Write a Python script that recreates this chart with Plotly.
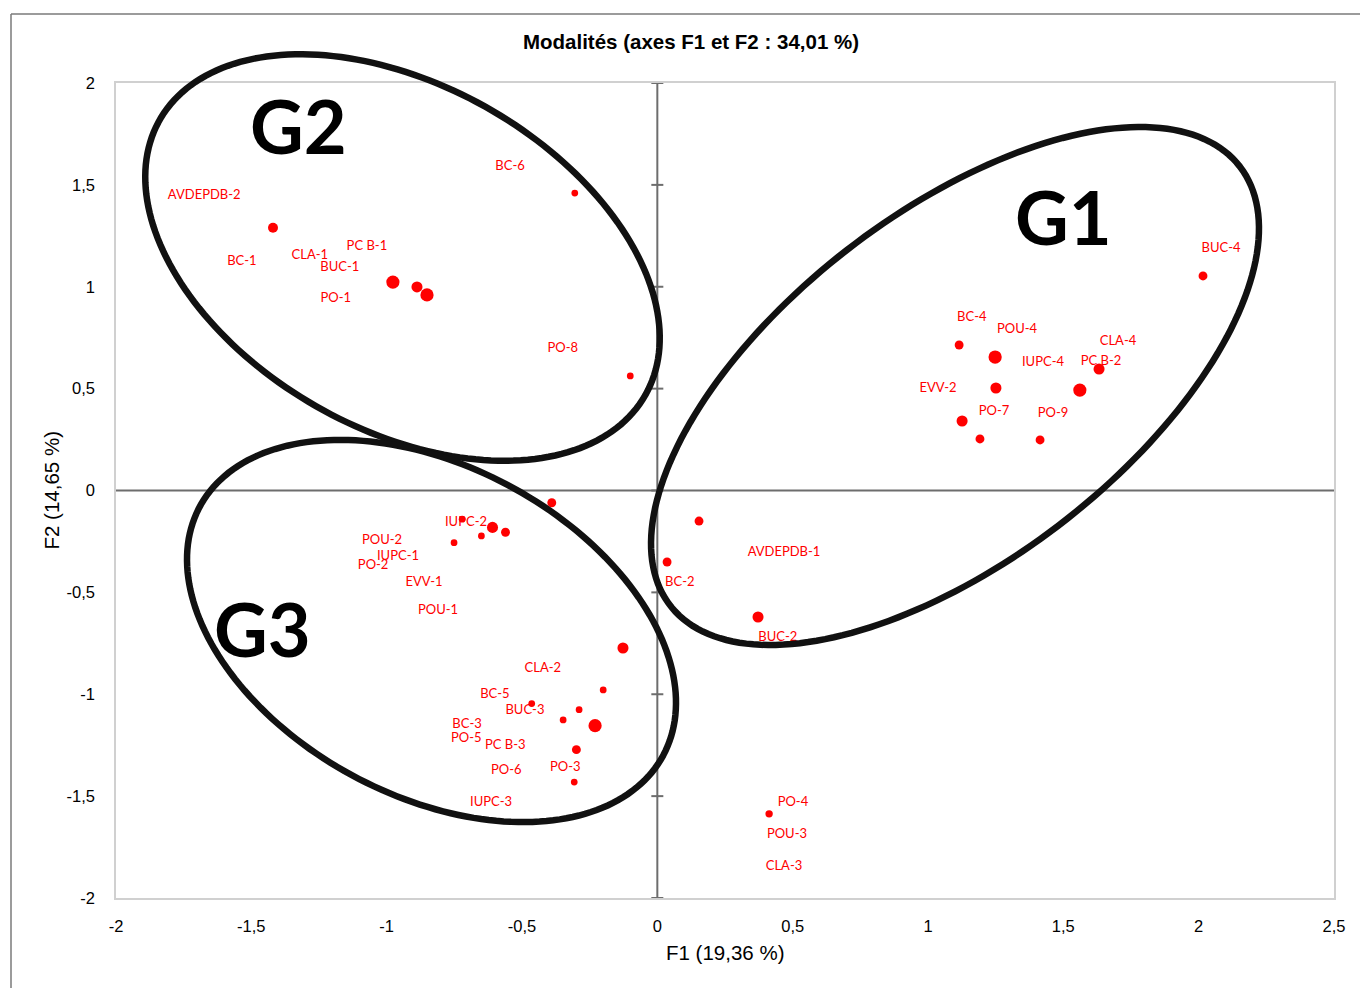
import numpy as np
import plotly.graph_objects as go

# ---------------- data ----------------
# point coordinates (F1, F2) and weight class
pt_f1 = [-1.42, -0.305, -0.977, -0.888, -0.851, -0.100,
         2.016, 1.115, 1.248, 1.632, 1.251, 1.561, 1.126, 1.192, 1.414,
         0.154, 0.036, 0.372, 0.413,
         -0.390, -0.721, -0.609, -0.561, -0.650, -0.751, -0.127, -0.200,
         -0.464, -0.289, -0.348, -0.230, -0.299, -0.307]
pt_f2 = [1.29, 1.46, 1.023, 0.999, 0.960, 0.562,
         1.053, 0.714, 0.655, 0.596, 0.503, 0.493, 0.341, 0.253, 0.248,
         -0.150, -0.351, -0.621, -1.587,
         -0.060, -0.141, -0.181, -0.205, -0.223, -0.256, -0.773, -0.979,
         -1.046, -1.076, -1.126, -1.154, -1.272, -1.431]
pt_weight = [2.5, 1, 4, 3, 4, 1,
             2, 2, 4, 3, 3, 4, 3, 2, 2,
             2, 2, 3, 1.3,
             2, 1, 3, 2, 1, 1, 3, 1,
             1, 1, 1, 4, 2, 1]

# modality labels and where they are drawn (F1, F2)
lab_names = ["AVDEPDB-2", "BC-6", "BC-1", "CLA-1", "PC B-1", "BUC-1", "PO-1", "PO-8",
             "BUC-4", "BC-4", "POU-4", "CLA-4", "IUPC-4", "PC B-2", "EVV-2", "PO-7", "PO-9",
             "AVDEPDB-1", "BC-2", "BUC-2", "PO-4", "POU-3", "CLA-3",
             "IUPC-2", "POU-2", "IUPC-1", "PO-2", "EVV-1", "POU-1", "CLA-2", "BC-5",
             "BUC-3", "BC-3", "PO-5", "PC B-3", "PO-6", "PO-3", "IUPC-3"]
lab_f1 = [-1.674, -0.544, -1.535, -1.284, -1.073, -1.173, -1.188, -0.349,
          2.083, 1.162, 1.329, 1.702, 1.425, 1.639, 1.037, 1.244, 1.462,
          0.468, 0.083, 0.445, 0.501, 0.479, 0.468,
          -0.707, -1.017, -0.958, -1.050, -0.862, -0.810, -0.423, -0.600,
          -0.489, -0.703, -0.706, -0.562, -0.558, -0.340, -0.614]
lab_f2 = [1.445, 1.588, 1.121, 1.151, 1.195, 1.092, 0.940, 0.694,
          1.185, 0.846, 0.788, 0.729, 0.626, 0.631, 0.498, 0.385, 0.375,
          -0.307, -0.454, -0.724, -1.534, -1.691, -1.848,
          -0.160, -0.248, -0.327, -0.371, -0.454, -0.592, -0.876, -1.004,
          -1.082, -1.151, -1.220, -1.254, -1.377, -1.362, -1.534]

# groups: name, label position (F1, F2)
grp_names = ["G1", "G2", "G3"]
grp_f1 = [1.499, -1.326, -1.457]
grp_f2 = [1.347, 1.789, -0.675]

x_ticks = [-2, -1.5, -1, -0.5, 0, 0.5, 1, 1.5, 2, 2.5]
x_ticktext = ["-2", "-1,5", "-1", "-0,5", "0", "0,5", "1", "1,5", "2", "2,5"]
y_ticks = [-2, -1.5, -1, -0.5, 0, 0.5, 1, 1.5, 2]
y_ticktext = ["-2", "-1,5", "-1", "-0,5", "0", "0,5", "1", "1,5", "2"]

# ---------------- layout geometry ----------------
W, H = 1360, 988
ML, MR, MT, MB = 116, 26, 83, 90
XR = [-2, 2.5]
YR = [-2, 2]
pw = W - ML - MR
ph = H - MT - MB
sx = pw / (XR[1] - XR[0])
sy = ph / (YR[1] - YR[0])


def px_to_paper(px, py):
    return (px - ML) / pw, (H - MB - py) / ph


def ellipse_path(cx, cy, a, b, theta_deg, n=200):
    t = np.linspace(0, 2 * np.pi, n)
    th = np.radians(theta_deg)
    ex = cx + a * np.cos(t) * np.cos(th) - b * np.sin(t) * np.sin(th)
    ey = cy + a * np.cos(t) * np.sin(th) + b * np.sin(t) * np.cos(th)
    pts = [px_to_paper(u, v) for u, v in zip(ex, ey)]
    return "M " + " L ".join(f"{u:.5f},{v:.5f}" for u, v in pts) + " Z"


fig = go.Figure()

sizes = [4.6 + 2.15 * w for w in pt_weight]
fig.add_trace(go.Scatter(x=pt_f1, y=pt_f2, mode="markers",
                         marker=dict(color="#FF0000", size=sizes, opacity=1, line=dict(width=0)),
                         hoverinfo="skip", showlegend=False))
fig.add_trace(go.Scatter(x=lab_f1, y=lab_f2, mode="text", text=lab_names,
                         textposition="middle center",
                         textfont=dict(family="Lato, Carlito, sans-serif", size=13, color="#FF0000"),
                         hoverinfo="skip", showlegend=False))

shapes = []
# zero lines
shapes.append(dict(type="line", xref="x", yref="y", x0=XR[0], x1=XR[1], y0=0, y1=0,
                   line=dict(color="#6d6d6d", width=2), layer="below"))
shapes.append(dict(type="line", xref="x", yref="y", x0=0, x1=0, y0=YR[0], y1=YR[1],
                   line=dict(color="#6d6d6d", width=2), layer="below"))
half = 6 / sx
for yv in y_ticks:
    shapes.append(dict(type="line", xref="x", yref="y", x0=-half, x1=half, y0=yv, y1=yv,
                       line=dict(color="#6d6d6d", width=2), layer="below"))
# group ellipses (screen-space ellipses, paper-referenced so they are not clipped)
for cx, cy, a, b, th in [(402.5, 257.5, 279.1, 172.0, 29.5),
                          (955, 386, 359.6, 173.7, -37.6),
                          (431.5, 631, 263, 164.7, 28.2)]:
    shapes.append(dict(type="path", xref="paper", yref="paper", path=ellipse_path(cx, cy, a, b, th),
                       line=dict(color="#111111", width=6.5), fillcolor="rgba(0,0,0,0)"))
# outer frame
fx = (11 - ML) / pw
fy = (H - MB - 14) / ph
shapes.append(dict(type="line", xref="paper", yref="paper", x0=fx, x1=(W - ML) / pw + 0.01,
                   y0=fy, y1=fy, line=dict(color="#7a7a7a", width=1.5)))
shapes.append(dict(type="line", xref="paper", yref="paper", x0=fx, x1=fx,
                   y0=fy, y1=-MB / ph - 0.01, line=dict(color="#7a7a7a", width=1.5)))

annotations = []
for n, gx, gy in zip(grp_names, grp_f1, grp_f2):
    annotations.append(dict(x=gx, y=gy, xref="x", yref="y", text=f"<b>{n}</b>", showarrow=False,
                            font=dict(family="Lato, sans-serif", size=74, color="#000000"),
                            xanchor="center", yanchor="middle"))
annotations.append(dict(x=(725 - ML) / pw, y=(H - MB - 952) / ph, xref="paper", yref="paper",
                        text="F1 (19,36 %)", showarrow=False,
                        font=dict(family="Liberation Sans, Arial, sans-serif", size=20.5, color="#000"),
                        xanchor="center", yanchor="middle"))
annotations.append(dict(x=(51 - ML) / pw, y=0.5, xref="paper", yref="paper",
                        text="F2 (14,65 %)", showarrow=False, textangle=-90,
                        font=dict(family="Liberation Sans, Arial, sans-serif", size=20.5, color="#000"),
                        xanchor="center", yanchor="middle"))

fig.update_layout(
    width=W, height=H, autosize=False,
    margin=dict(l=ML, r=MR, t=MT, b=MB, pad=0),
    paper_bgcolor="white", plot_bgcolor="white",
    title=dict(text="<b>Modalités (axes F1 et F2 : 34,01 %)</b>", x=691 / W, xref="container",
               y=1 - 42 / H, yref="container", xanchor="center", yanchor="middle",
               font=dict(family="Liberation Sans, Arial, sans-serif", size=20.5, color="#000")),
    shapes=shapes, annotations=annotations,
    xaxis=dict(range=XR, tickvals=x_ticks, ticktext=x_ticktext, showgrid=False, zeroline=False,
               showline=True, mirror=True, linecolor="#d0d0d0", linewidth=1.5,
               ticks="", ticklabelstandoff=12,
               tickfont=dict(family="Liberation Sans, Arial, sans-serif", size=16.5, color="#000")),
    yaxis=dict(range=YR, tickvals=y_ticks, ticktext=y_ticktext, showgrid=False, zeroline=False,
               showline=True, mirror=True, linecolor="#d0d0d0", linewidth=1.5,
               ticks="", ticklabelstandoff=16,
               tickfont=dict(family="Liberation Sans, Arial, sans-serif", size=16.5, color="#000")),
)

fig.write_html("out.html", config={"displayModeBar": False},
               post_script="document.body.style.margin='0';")
